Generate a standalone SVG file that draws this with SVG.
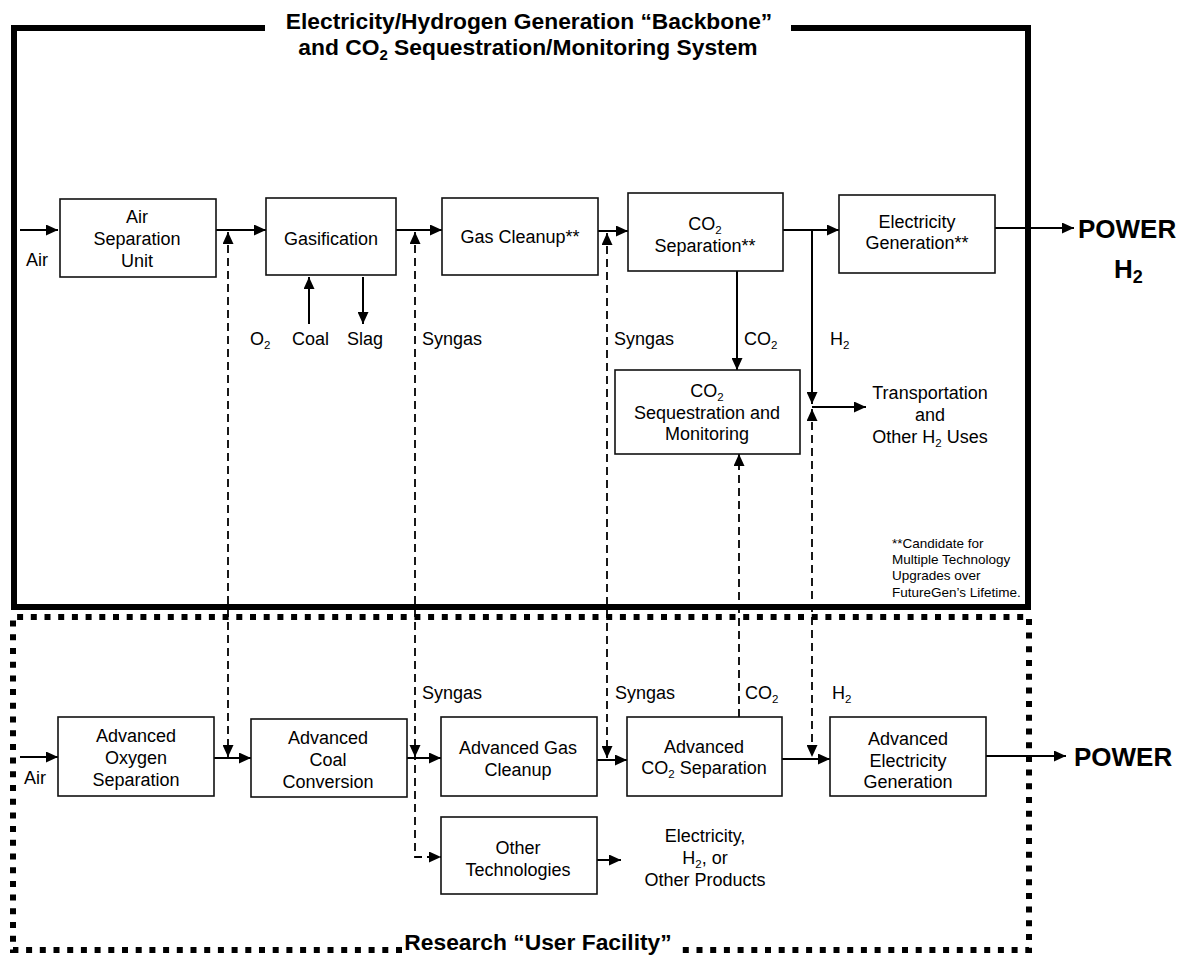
<svg xmlns="http://www.w3.org/2000/svg" width="1183" height="955" viewBox="0 0 1183 955">
<style>
text{font-family:"Liberation Sans",Arial,sans-serif;fill:#000}
.t{font-size:18px;text-anchor:middle}
.l{font-size:18px}
.b{font-weight:bold;font-size:22.8px;text-anchor:middle}
.p{font-weight:bold;font-size:26px}
.f{font-size:13.5px}
.sub{font-size:11.5px}
.box{fill:#fff;stroke:#111;stroke-width:1.6}
.s{fill:none;stroke:#000;stroke-width:2}
.d{fill:none;stroke:#000;stroke-width:1.8;stroke-dasharray:8 5}
</style>
<defs>
<marker id="a" markerUnits="userSpaceOnUse" markerWidth="12" markerHeight="11" refX="12" refY="5.5" orient="auto-start-reverse" viewBox="0 0 12 11">
<path d="M0,0 L12,5.5 L0,11 z" fill="#000"/>
</marker>
</defs>
<rect width="1183" height="955" fill="#fff"/>
<g id="frames">
<path d="M265,28 H14 V607 H1028 V28 H791" fill="none" stroke="#000" stroke-width="6"/>
<path d="M402,950 H13 V617 H1029 V950 H682" fill="none" stroke="#000" stroke-width="6" stroke-dasharray="6 7.7"/>
<text class="b" x="529" y="29">Electricity/Hydrogen Generation “Backbone”</text>
<text class="b" x="528" y="55">and CO<tspan dy="5" font-size="15">2</tspan><tspan dy="-5"> Sequestration/Monitoring System</tspan></text>
<text class="b" x="538" y="950">Research “User Facility”</text>
</g>
<g id="connectors">
<path class="s" d="M20,230 H58" marker-end="url(#a)"/>
<path class="s" d="M216,230 H266" marker-end="url(#a)"/>
<path class="s" d="M396,230 H442" marker-end="url(#a)"/>
<path class="s" d="M598,231 H628" marker-end="url(#a)"/>
<path class="s" d="M783,230 H839" marker-end="url(#a)"/>
<path class="s" d="M812,230 V404" marker-end="url(#a)"/>
<path class="s" d="M812,407 H866" marker-end="url(#a)"/>
<path class="s" d="M995,228 H1074" marker-end="url(#a)"/>
<path class="s" d="M309,324 V277" marker-end="url(#a)"/>
<path class="s" d="M363,277 V324" marker-end="url(#a)"/>
<path class="s" d="M737,271 V370" marker-end="url(#a)"/>
<path class="s" d="M20,757 H58" marker-end="url(#a)"/>
<path class="s" d="M214,758 H251" marker-end="url(#a)"/>
<path class="s" d="M407,758 H441" marker-end="url(#a)"/>
<path class="s" d="M597,760 H627" marker-end="url(#a)"/>
<path class="s" d="M782,759 H830" marker-end="url(#a)"/>
<path class="s" d="M986,756 H1066" marker-end="url(#a)"/>
<path class="s" d="M597,860 H621" marker-end="url(#a)"/>
<path class="d" d="M228,232 V757" marker-start="url(#a)" marker-end="url(#a)"/>
<path class="d" d="M415,232 V857 H441" marker-start="url(#a)" marker-end="url(#a)"/>
<polygon points="409.5,745 420.5,745 415,757" fill="#000"/>
<path class="d" d="M607,233 V758" marker-start="url(#a)" marker-end="url(#a)"/>
<path class="d" d="M739,717 V454" marker-end="url(#a)"/>
<path class="d" d="M812,409 V757" marker-start="url(#a)" marker-end="url(#a)"/>
<text class="l" x="26" y="266">Air</text>
<text class="l" x="250" y="345">O<tspan class="sub" dy="4">2</tspan></text>
<text class="l" x="292" y="345">Coal</text>
<text class="l" x="347" y="345">Slag</text>
<text class="l" x="422" y="345">Syngas</text>
<text class="l" x="614" y="345">Syngas</text>
<text class="l" x="744" y="345">CO<tspan class="sub" dy="4">2</tspan></text>
<text class="l" x="830" y="345">H<tspan class="sub" dy="4">2</tspan></text>
<text class="l" x="24" y="784">Air</text>
<text class="l" x="422" y="699">Syngas</text>
<text class="l" x="615" y="699">Syngas</text>
<text class="l" x="745" y="699">CO<tspan class="sub" dy="4">2</tspan></text>
<text class="l" x="832" y="699">H<tspan class="sub" dy="4">2</tspan></text>
</g>
<g id="asu"><rect class="box" x="60" y="199" width="156" height="78"/>
<text class="t" x="137" y="223">Air</text><text class="t" x="137" y="245">Separation</text><text class="t" x="137" y="267">Unit</text></g>
<g id="gasification"><rect class="box" x="266" y="198" width="130" height="77"/>
<text class="t" x="331" y="245">Gasification</text></g>
<g id="gascleanup"><rect class="box" x="442" y="198" width="156" height="77"/>
<text class="t" x="520" y="243">Gas Cleanup**</text></g>
<g id="co2sep"><rect class="box" x="628" y="193" width="155" height="78"/>
<text class="t" x="705" y="230">CO<tspan class="sub" dy="4">2</tspan></text><text class="t" x="705" y="252">Separation**</text></g>
<g id="elecgen"><rect class="box" x="839" y="195" width="156" height="78"/>
<text class="t" x="917" y="228">Electricity</text><text class="t" x="917" y="249">Generation**</text></g>
<g id="co2seq"><rect class="box" x="615" y="370" width="185" height="84"/>
<text class="t" x="707" y="397">CO<tspan class="sub" dy="4">2</tspan></text><text class="t" x="707" y="419">Sequestration and</text><text class="t" x="707" y="440">Monitoring</text></g>
<g id="transport">
<text class="t" x="930" y="399">Transportation</text><text class="t" x="930" y="421">and</text><text class="t" x="930" y="443">Other H<tspan class="sub" dy="4">2</tspan><tspan dy="-4"> Uses</tspan></text></g>
<g id="power-top"><text class="p" x="1078" y="238">POWER</text><text class="p" x="1114" y="278">H<tspan dy="5" font-size="18">2</tspan></text></g>
<g id="footnote">
<text class="f" x="892" y="548">**Candidate for</text><text class="f" x="892" y="564">Multiple Technology</text><text class="f" x="892" y="580">Upgrades over</text><text class="f" x="892" y="597">FutureGen’s Lifetime.</text></g>
<g id="advoxy"><rect class="box" x="58" y="717" width="156" height="79"/>
<text class="t" x="136" y="742">Advanced</text><text class="t" x="136" y="764">Oxygen</text><text class="t" x="136" y="786">Separation</text></g>
<g id="advcoal"><rect class="box" x="251" y="719" width="156" height="78"/>
<text class="t" x="328" y="744">Advanced</text><text class="t" x="328" y="766">Coal</text><text class="t" x="328" y="788">Conversion</text></g>
<g id="advgas"><rect class="box" x="441" y="717" width="156" height="79"/>
<text class="t" x="518" y="754">Advanced Gas</text><text class="t" x="518" y="776">Cleanup</text></g>
<g id="advco2"><rect class="box" x="627" y="717" width="155" height="79"/>
<text class="t" x="704" y="753">Advanced</text><text class="t" x="704" y="774">CO<tspan class="sub" dy="4">2</tspan><tspan dy="-4"> Separation</tspan></text></g>
<g id="advelec"><rect class="box" x="830" y="717" width="156" height="79"/>
<text class="t" x="908" y="745">Advanced</text><text class="t" x="908" y="767">Electricity</text><text class="t" x="908" y="788">Generation</text></g>
<g id="othertech"><rect class="box" x="441" y="817" width="156" height="77"/>
<text class="t" x="518" y="854">Other</text><text class="t" x="518" y="876">Technologies</text></g>
<g id="products">
<text class="t" x="705" y="842">Electricity,</text><text class="t" x="705" y="864">H<tspan class="sub" dy="4">2</tspan><tspan dy="-4">, or</tspan></text><text class="t" x="705" y="886">Other Products</text></g>
<g id="power-bottom"><text class="p" x="1074" y="766">POWER</text></g>
</svg>
